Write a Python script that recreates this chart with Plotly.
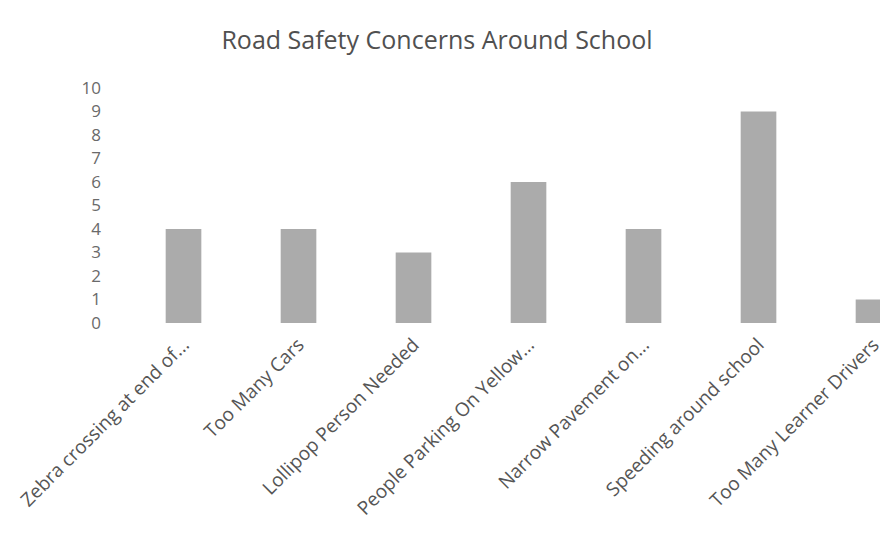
import plotly.graph_objects as go

categories = [
    "Zebra crossing at end of...",
    "Too Many Cars",
    "Lollipop Person Needed",
    "People Parking On Yellow...",
    "Narrow Pavement on...",
    "Speeding around school",
    "Too Many Learner Drivers",
]
values = [4, 4, 3, 6, 4, 9, 1]
y_ticks = list(range(0, 11))

fig = go.Figure(
    go.Bar(
        x=categories,
        y=values,
        marker=dict(color="#ababab", line=dict(width=0)),
        width=0.31,
    )
)

fig.update_layout(
    width=880,
    height=527,
    paper_bgcolor="white",
    plot_bgcolor="white",
    margin=dict(l=118, r=0, t=80, b=212),
    showlegend=False,
    title=dict(
        text="Road Safety Concerns Around School",
        x=0.4875,
        xanchor="center",
        y=0.939,
        yanchor="middle",
        font=dict(family="Open Sans", size=25, color="#505050"),
    ),
    font=dict(family="Open Sans", color="#595959"),
)

fig.update_xaxes(
    type="category",
    range=[-0.5, 6.126],
    tickangle=-45,
    tickfont=dict(size=19, color="#555555"),
    showgrid=False,
    showline=False,
    zeroline=False,
    ticks="",
    ticklabelstandoff=6,
)

fig.update_yaxes(
    range=[0, 10],
    tickvals=y_ticks,
    tickfont=dict(size=17, color="#6a6a6a"),
    showgrid=False,
    showline=False,
    zeroline=False,
    ticks="",
    ticklabelstandoff=24,
)

fig.write_html("out.html")
